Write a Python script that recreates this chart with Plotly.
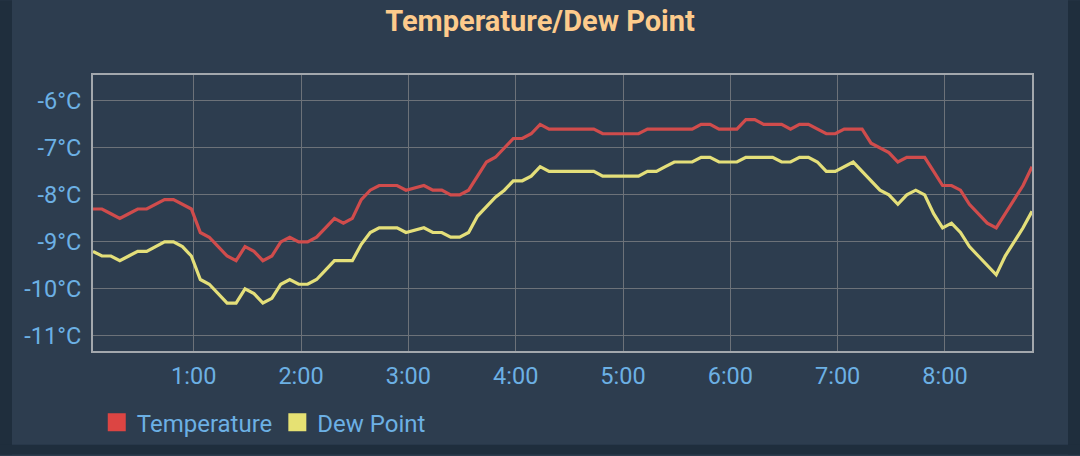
import pandas as pd
import plotly.graph_objects as go

# valori, un punct la 5 minute
temperature = [
    -8.3, -8.3, -8.4, -8.5, -8.4, -8.3, -8.3, -8.2, -8.1, -8.1,
    -8.2, -8.3, -8.8, -8.9, -9.1, -9.3, -9.4, -9.1, -9.2, -9.4,
    -9.3, -9.0, -8.9, -9.0, -9.0, -8.9, -8.7, -8.5, -8.6, -8.5,
    -8.1, -7.9, -7.8, -7.8, -7.8, -7.9, -7.85, -7.8, -7.9, -7.9,
    -8.0, -8.0, -7.9, -7.6, -7.3, -7.2, -7.0, -6.8, -6.8, -6.7,
    -6.5, -6.6, -6.6, -6.6, -6.6, -6.6, -6.6, -6.7, -6.7, -6.7,
    -6.7, -6.7, -6.6, -6.6, -6.6, -6.6, -6.6, -6.6, -6.5, -6.5,
    -6.6, -6.6, -6.6, -6.4, -6.4, -6.5, -6.5, -6.5, -6.6, -6.5,
    -6.5, -6.6, -6.7, -6.7, -6.6, -6.6, -6.6, -6.9, -7.0, -7.1,
    -7.3, -7.2, -7.2, -7.2, -7.5, -7.8, -7.8, -7.9, -8.2, -8.4,
    -8.6, -8.7, -8.4, -8.1, -7.8, -7.4,
]
dew_point = [
    -9.2, -9.3, -9.3, -9.4, -9.3, -9.2, -9.2, -9.1, -9.0, -9.0,
    -9.1, -9.3, -9.8, -9.9, -10.1, -10.3, -10.3, -10.0, -10.1, -10.3,
    -10.2, -9.9, -9.8, -9.9, -9.9, -9.8, -9.6, -9.4, -9.4, -9.4,
    -9.05, -8.8, -8.7, -8.7, -8.7, -8.8, -8.75, -8.7, -8.8, -8.8,
    -8.9, -8.9, -8.8, -8.45, -8.25, -8.05, -7.9, -7.7, -7.7, -7.6,
    -7.4, -7.5, -7.5, -7.5, -7.5, -7.5, -7.5, -7.6, -7.6, -7.6,
    -7.6, -7.6, -7.5, -7.5, -7.4, -7.3, -7.3, -7.3, -7.2, -7.2,
    -7.3, -7.3, -7.3, -7.2, -7.2, -7.2, -7.2, -7.3, -7.3, -7.2,
    -7.2, -7.3, -7.5, -7.5, -7.4, -7.3, -7.5, -7.7, -7.9, -8.0,
    -8.2, -8.0, -7.9, -8.0, -8.4, -8.7, -8.6, -8.8, -9.1, -9.3,
    -9.5, -9.7, -9.3, -9.0, -8.7, -8.35,
]
times = pd.date_range('2024-01-01 00:03:40', periods=len(temperature), freq='5min')

y_ticks = [-11, -10, -9, -8, -7, -6]
y_labels = ['-11°C', '-10°C', '-9°C', '-8°C', '-7°C', '-6°C']

card = '#2d3d4f'
outer = '#1f2e3d'
blue_txt = '#6cb0e4'
grid = '#6c7279'
border = '#a3a8ad'

fig = go.Figure()
fig.add_trace(go.Scatter(x=times, y=temperature, mode='lines', line=dict(color='#d04c4c', width=3.2),
                         showlegend=False, legendgroup='t'))
fig.add_trace(go.Scatter(x=times, y=dew_point, mode='lines', line=dict(color='#e4df7a', width=3.2),
                         showlegend=False, legendgroup='d'))
# intrari de legenda cu patrat
fig.add_trace(go.Scatter(x=[None], y=[None], mode='markers', name='Temperature', legendgroup='t',
                         marker=dict(symbol='square', size=16, color='#dc4543',
                                     line=dict(color='#dc4543', width=2))))
fig.add_trace(go.Scatter(x=[None], y=[None], mode='markers', name='Dew Point', legendgroup='d',
                         marker=dict(symbol='square', size=16, color='#e6e173',
                                     line=dict(color='#e6e173', width=2))))

# fasiile mai inchise din jurul cardului (coordonate paper)
def px_x(p):
    return (p - 93) / 939

def px_y(p):
    return (352 - p) / 277

for x0, y0, x1, y1 in [(0, 0, 12, 456), (1068, 0, 1080, 456), (0, 446, 1080, 456)]:
    fig.add_shape(type='rect', xref='paper', yref='paper', layer='below',
                  x0=px_x(x0), x1=px_x(x1), y0=px_y(y1), y1=px_y(y0),
                  fillcolor=outer, line=dict(width=0))

fig.update_layout(
    width=1080, height=456,
    margin=dict(l=93, r=48, t=75, b=104),
    paper_bgcolor=card, plot_bgcolor=card,
    font=dict(family='Roboto', size=23.5, color=blue_txt),
    title=dict(text='<b>Temperature/Dew Point</b>', x=0.5, xanchor='center', y=0.955, yanchor='middle',
               font=dict(family='Roboto', size=29, color='#fdcb8c')),
    legend=dict(orientation='h', x=0.004, xanchor='left', y=-0.255, yanchor='middle',
                font=dict(size=24, color=blue_txt), bgcolor='rgba(0,0,0,0)'),
    xaxis=dict(range=[times[0], times[-1]], tickformat='%-H:%M', dtick=3600000,
               tick0='2024-01-01 00:00', showgrid=True, gridcolor=grid, gridwidth=1,
               showline=True, linecolor=border, linewidth=2, mirror=True, zeroline=False,
               ticks='', ticklabelstandoff=3),
    yaxis=dict(range=[-11.32, -5.45], tickvals=y_ticks, ticktext=y_labels,
               showgrid=True, gridcolor=grid, gridwidth=1,
               showline=True, linecolor=border, linewidth=2, mirror=True, zeroline=False,
               ticks='', ticklabelstandoff=5),
)

# fara marginea implicita a paginii
fig.write_html("out.html", config={'displayModeBar': False},
               post_script="document.body.style.margin='0';")
